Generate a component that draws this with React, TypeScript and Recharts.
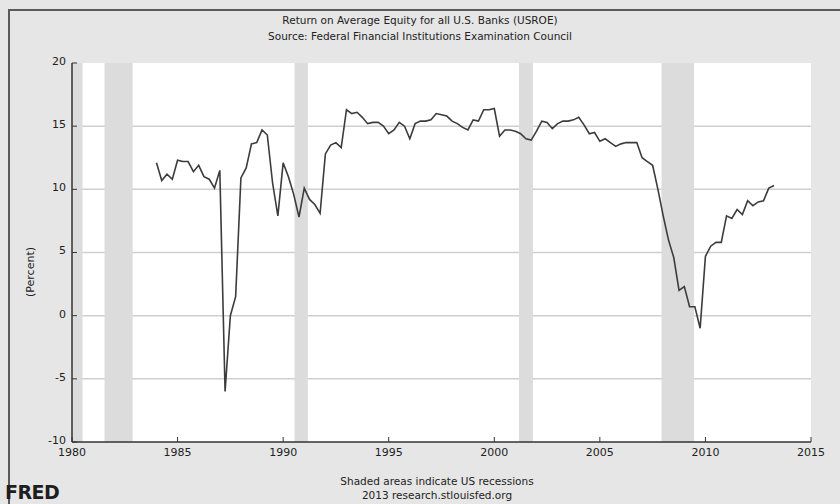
import React from 'react';
import { LineChart, Line, XAxis, YAxis, CartesianGrid, ReferenceArea } from 'recharts';

// Quarterly Return on Average Equity, starting 1984 Q1
const roeValues: number[] = [
  12.1, 10.7, 11.2, 10.8,
  12.3, 12.2, 12.2, 11.4,
  11.9, 11.0, 10.8, 10.1,
  11.5, -6.0, 0.0, 1.5,
  10.9, 11.7, 13.6, 13.7,
  14.7, 14.3, 10.5, 7.9,
  12.1, 11.0, 9.6, 7.8,
  10.1, 9.2, 8.8, 8.1,
  12.8, 13.5, 13.7, 13.3,
  16.3, 16.0, 16.1, 15.7,
  15.2, 15.3, 15.3, 15.0,
  14.4, 14.7, 15.3, 15.0,
  14.0, 15.2, 15.4, 15.4,
  15.5, 16.0, 15.9, 15.8,
  15.4, 15.2, 14.9, 14.7,
  15.5, 15.4, 16.3, 16.3,
  16.4, 14.2, 14.7, 14.7,
  14.6, 14.4, 14.0, 13.9,
  14.6, 15.4, 15.3, 14.8,
  15.2, 15.4, 15.4, 15.5,
  15.7, 15.1, 14.4, 14.5,
  13.8, 14.0, 13.7, 13.4,
  13.6, 13.7, 13.7, 13.7,
  12.5, 12.2, 11.9, 10.0,
  7.9, 6.0, 4.6, 2.0,
  2.3, 0.7, 0.7, -1.0,
  4.7, 5.5, 5.8, 5.8,
  7.9, 7.7, 8.4, 8.0,
  9.1, 8.7, 9.0, 9.1,
  10.1, 10.3,
];
const startYear = 1984;

const recessionStarts: number[] = [1980.0, 1981.54, 1990.54, 2001.17, 2007.92];
const recessionEnds: number[] = [1980.5, 1982.87, 1991.17, 2001.83, 2009.46];

const xTicks: number[] = [1980, 1985, 1990, 1995, 2000, 2005, 2010, 2015];
const yTicks: number[] = [-10, -5, 0, 5, 10, 15, 20];
const gridValues: number[] = [-5, 0, 5, 10, 15];

const titleLines: string[] = [
  'Return on Average Equity for all U.S. Banks (USROE)',
  'Source: Federal Financial Institutions Examination Council',
];
const footerLines: string[] = ['Shaded areas indicate US recessions', '2013 research.stlouisfed.org'];

const data = roeValues.map((v, i) => ({ date: startYear + i / 4, roe: v }));

const FONT = '"DejaVu Sans", Verdana, sans-serif';

export default function App() {
  return (
    <div
      style={{
        position: 'absolute',
        left: 0,
        top: 0,
        width: 840,
        height: 504,
        background: '#e6e6e6',
        overflow: 'hidden',
        fontFamily: FONT,
      }}
    >
      {/* frame lines */}
      <div style={{ position: 'absolute', left: 8, top: 9, width: 832, height: 2, background: '#5a5a5a' }} />
      <div style={{ position: 'absolute', left: 8, top: 9, width: 2, height: 495, background: '#5a5a5a' }} />

      <LineChart
        width={840}
        height={504}
        data={data}
        margin={{ top: 63, right: 29, bottom: 32, left: 12 }}
        style={{ position: 'absolute', left: 0, top: 0 }}
      >
        <CartesianGrid
          vertical={false}
          horizontalValues={gridValues}
          stroke="#cfcfcf"
          strokeWidth={1.5}
          fill="#ffffff"
          fillOpacity={1}
        />
        {recessionStarts.map((s, i) => (
          <ReferenceArea
            key={i}
            x1={s}
            x2={recessionEnds[i]}
            y1={-10}
            y2={20}
            fill="#dcdcdc"
            fillOpacity={1}
            stroke="none"
            ifOverflow="hidden"
          />
        ))}
        <XAxis
          type="number"
          dataKey="date"
          domain={[1980, 2015]}
          ticks={xTicks}
          allowDataOverflow
          height={30}
          tickSize={-5}
          tickMargin={11}
          axisLine={{ stroke: '#333', strokeWidth: 1.5 }}
          tickLine={{ stroke: '#333', strokeWidth: 1 }}
          tick={{ fill: '#222', fontSize: 11, fontFamily: FONT }}
        />
        <YAxis
          type="number"
          domain={[-10, 20]}
          ticks={yTicks}
          allowDataOverflow
          width={60}
          tickSize={-5}
          tickMargin={11}
          axisLine={{ stroke: '#333', strokeWidth: 1.5 }}
          tickLine={{ stroke: '#333', strokeWidth: 1 }}
          tick={{ fill: '#222', fontSize: 11, fontFamily: FONT, dy: -2 }}
        />
        <Line
          type="linear"
          dataKey="roe"
          stroke="#3c3c3c"
          strokeWidth={1.6}
          dot={false}
          isAnimationActive={false}
        />
      </LineChart>

      {/* titles */}
      {titleLines.map((t, i) => (
        <div
          key={t}
          style={{
            position: 'absolute',
            left: 0,
            width: 840,
            top: 13 + i * 16,
            textAlign: 'center',
            fontSize: 10.5,
            color: '#222',
            lineHeight: '14px',
            whiteSpace: 'nowrap',
          }}
        >
          {t}
        </div>
      ))}

      {/* y label */}
      <div
        style={{
          position: 'absolute',
          left: 30,
          top: 272,
          transform: 'translate(-50%, -50%) rotate(-90deg)',
          fontSize: 11,
          color: '#222',
          whiteSpace: 'nowrap',
        }}
      >
        (Percent)
      </div>

      {/* footer */}
      {footerLines.map((t, i) => (
        <div
          key={t}
          style={{
            position: 'absolute',
            left: 437 - 200,
            width: 400,
            top: 474 + i * 14,
            textAlign: 'center',
            fontSize: 10.5,
            color: '#222',
            lineHeight: '14px',
            whiteSpace: 'nowrap',
          }}
        >
          {t}
        </div>
      ))}

      {/* FRED mark */}
      <div
        style={{
          position: 'absolute',
          left: 5,
          top: 481,
          fontSize: 19,
          fontWeight: 'bold',
          color: '#1e1e1e',
          lineHeight: '22px',
          letterSpacing: -0.5,
        }}
      >
        FRED
      </div>
    </div>
  );
}
